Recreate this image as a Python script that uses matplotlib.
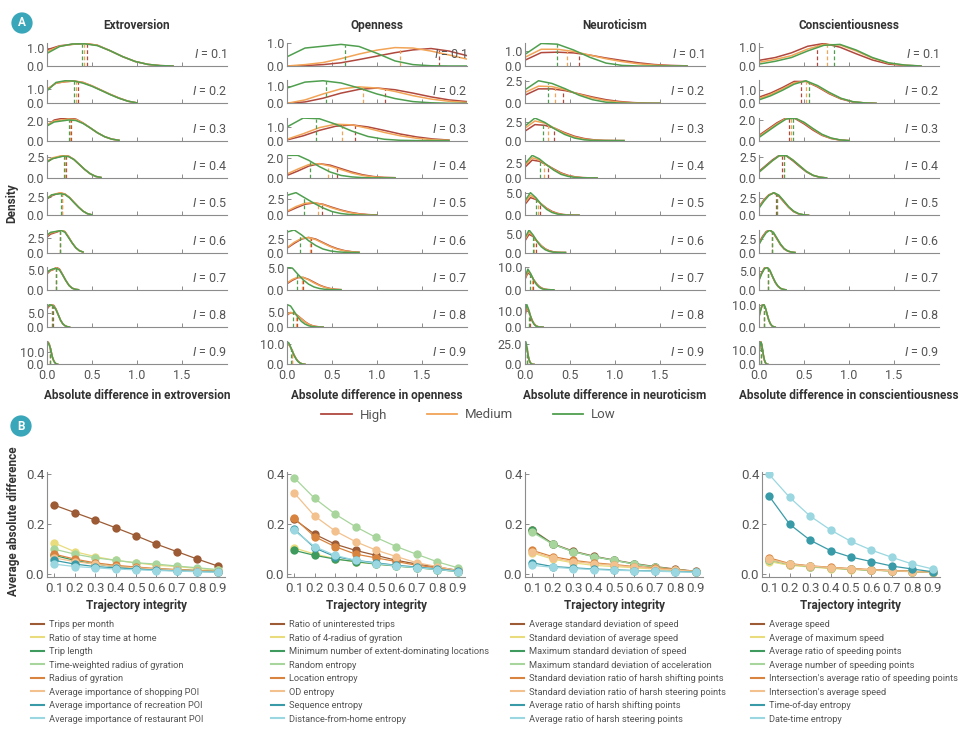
import numpy as np
import matplotlib.pyplot as plt
from matplotlib.lines import Line2D

W, H = 960, 738

plt.rcParams["font.family"] = ["Roboto", "DejaVu Sans"]
plt.rcParams["mathtext.fontset"] = "custom"
plt.rcParams["mathtext.it"] = "Roboto:italic"
plt.rcParams["mathtext.rm"] = "Roboto"

INTEGRITY = [0.1, 0.2, 0.3, 0.4, 0.5, 0.6, 0.7, 0.8, 0.9]
TRAITS = ["Extroversion", "Openness", "Neuroticism", "Conscientiousness"]
GROUPS = ["High", "Medium", "Low"]
GROUP_COLORS = ["#b0483e", "#f2a457", "#4f9f4f"]
SERIES_COLORS = ["#9c5b34", "#e9dc7c", "#3f9a5e", "#a7d59b",
                 "#d9843e", "#f2c18d", "#3a9ba8", "#9ad7e0"]

# ---- panel A: density samples (11 evenly spaced points from 0 to span) ----
ext_span = [1.4, 1.0, 0.8, 0.6, 0.5, 0.4, 0.35, 0.25, 0.12]
ext_tick = [1.0, 1.0, 2.0, 2.5, 2.5, 2.5, 5.0, 5.0, 10.0]
ext_high = [
    [0.90, 1.12, 1.20, 1.25, 1.15, 0.85, 0.52, 0.25, 0.09, 0.02, 0.0],
    [1.0, 1.45, 1.55, 1.6, 1.5, 1.25, 0.95, 0.65, 0.38, 0.15, 0.03],
    [1.5, 2.1, 2.25, 2.3, 2.2, 1.8, 1.3, 0.8, 0.4, 0.15, 0.03],
    [1.9, 2.3, 2.5, 2.65, 2.6, 2.2, 1.6, 1.0, 0.5, 0.18, 0.05],
    [2.2, 2.6, 2.85, 3.0, 2.85, 2.4, 1.75, 1.1, 0.55, 0.2, 0.05],
    [2.6, 3.1, 3.3, 3.5, 3.8, 3.5, 2.6, 1.6, 0.8, 0.3, 0.08],
    [4.0, 4.8, 5.1, 5.7, 5.2, 3.8, 2.3, 1.1, 0.4, 0.12, 0.02],
    [6.5, 7.5, 8.0, 7.8, 6.5, 4.5, 2.5, 1.2, 0.5, 0.15, 0.03],
    [15, 18, 17, 14, 10, 6, 3.5, 1.8, 0.8, 0.3, 0.05],
]
ext_med = [
    [0.80, 1.10, 1.20, 1.25, 1.15, 0.85, 0.52, 0.25, 0.09, 0.02, 0.0],
    [1.0, 1.45, 1.55, 1.6, 1.5, 1.25, 0.95, 0.65, 0.38, 0.15, 0.03],
    [1.6, 2.0, 2.1, 2.2, 2.15, 1.8, 1.3, 0.8, 0.4, 0.15, 0.03],
    [2.0, 2.4, 2.55, 2.7, 2.6, 2.2, 1.6, 1.0, 0.5, 0.18, 0.05],
    [2.3, 2.7, 2.9, 3.05, 2.85, 2.4, 1.75, 1.1, 0.55, 0.2, 0.05],
    [2.8, 3.3, 3.4, 3.6, 3.8, 3.5, 2.6, 1.6, 0.8, 0.3, 0.08],
    [4.2, 4.9, 5.2, 5.6, 5.1, 3.7, 2.3, 1.1, 0.4, 0.12, 0.02],
    [6.8, 7.8, 8.1, 7.6, 6.3, 4.4, 2.5, 1.2, 0.5, 0.15, 0.03],
    [16, 18.5, 16.5, 13.5, 9.8, 6, 3.5, 1.8, 0.8, 0.3, 0.05],
]
ext_low = [
    [0.70, 1.08, 1.22, 1.23, 1.13, 0.85, 0.52, 0.25, 0.09, 0.02, 0.0],
    [0.9, 1.5, 1.62, 1.6, 1.45, 1.22, 0.93, 0.63, 0.36, 0.15, 0.03],
    [1.5, 1.9, 2.0, 2.1, 2.05, 1.75, 1.3, 0.8, 0.4, 0.15, 0.03],
    [1.9, 2.3, 2.45, 2.6, 2.55, 2.2, 1.6, 1.0, 0.5, 0.18, 0.05],
    [2.2, 2.75, 2.85, 2.9, 2.8, 2.35, 1.7, 1.1, 0.55, 0.2, 0.05],
    [2.9, 3.4, 3.5, 3.6, 3.7, 3.4, 2.5, 1.6, 0.8, 0.3, 0.08],
    [4.3, 5.0, 5.3, 5.4, 5.0, 3.7, 2.3, 1.1, 0.4, 0.12, 0.02],
    [7.0, 8.0, 7.9, 7.4, 6.2, 4.4, 2.5, 1.2, 0.5, 0.15, 0.03],
    [16.5, 18, 16, 13.5, 9.8, 6, 3.5, 1.8, 0.8, 0.3, 0.05],
]
ext_medians = [[0.44, 0.41, 0.39], [0.34, 0.32, 0.30], [0.27, 0.25, 0.24],
               [0.21, 0.20, 0.19], [0.17, 0.165, 0.16], [0.145, 0.14, 0.14],
               [0.105, 0.10, 0.10], [0.065, 0.06, 0.06], [0.03, 0.03, 0.028]]

opn_span = [2.0, 2.0, 1.8, 1.2, 1.0, 0.8, 0.6, 0.4, 0.2]
opn_tick = [1.0, 1.0, 1.0, 2.0, 2.5, 2.5, 5.0, 5.0, 10.0]
opn_high = [
    [0.0, 0.02, 0.06, 0.14, 0.28, 0.43, 0.58, 0.70, 0.76, 0.65, 0.45],
    [0.0, 0.08, 0.3, 0.6, 0.82, 0.9, 0.8, 0.6, 0.38, 0.2, 0.1],
    [0.05, 0.35, 0.75, 1.05, 1.15, 1.0, 0.75, 0.48, 0.27, 0.12, 0.04],
    [0.25, 0.7, 1.2, 1.45, 1.3, 0.95, 0.6, 0.32, 0.14, 0.05, 0.02],
    [0.5, 1.1, 1.65, 1.85, 1.65, 1.2, 0.78, 0.45, 0.22, 0.09, 0.03],
    [0.8, 1.7, 2.5, 2.8, 2.5, 1.85, 1.2, 0.7, 0.35, 0.15, 0.05],
    [1.4, 2.2, 2.8, 2.85, 2.4, 1.75, 1.1, 0.62, 0.3, 0.12, 0.04],
    [4.0, 4.8, 4.6, 3.8, 2.8, 1.8, 1.0, 0.5, 0.22, 0.08, 0.02],
    [9.5, 9.8, 8.3, 6.4, 4.5, 2.9, 1.7, 0.9, 0.42, 0.16, 0.05],
]
opn_med = [
    [0.0, 0.06, 0.15, 0.32, 0.52, 0.69, 0.80, 0.78, 0.65, 0.48, 0.30],
    [0.0, 0.2, 0.55, 0.85, 0.97, 0.9, 0.7, 0.45, 0.25, 0.12, 0.05],
    [0.1, 0.5, 0.95, 1.2, 1.15, 0.9, 0.6, 0.35, 0.17, 0.07, 0.02],
    [0.4, 0.9, 1.35, 1.45, 1.2, 0.85, 0.5, 0.25, 0.1, 0.04, 0.01],
    [0.6, 1.3, 1.8, 1.9, 1.6, 1.1, 0.7, 0.38, 0.18, 0.07, 0.02],
    [0.9, 1.9, 2.6, 2.8, 2.4, 1.75, 1.1, 0.6, 0.3, 0.12, 0.04],
    [1.6, 2.4, 2.9, 2.85, 2.3, 1.6, 1.0, 0.55, 0.25, 0.1, 0.03],
    [4.2, 4.9, 4.6, 3.7, 2.7, 1.7, 0.95, 0.45, 0.2, 0.07, 0.02],
    [10, 10, 8.3, 6.3, 4.4, 2.8, 1.6, 0.85, 0.4, 0.15, 0.04],
]
opn_low = [
    [0.4, 0.78, 0.86, 0.94, 0.85, 0.55, 0.22, 0.06, 0.01, 0.0, 0.0],
    [0.9, 1.25, 1.33, 1.2, 0.9, 0.55, 0.28, 0.1, 0.03, 0.0, 0.0],
    [1.0, 1.65, 1.6, 1.2, 0.7, 0.3, 0.1, 0.02, 0.0, 0.0, 0.0],
    [2.3, 2.3, 1.8, 1.15, 0.6, 0.25, 0.1, 0.03, 0.0, 0.0, 0.0],
    [3.0, 3.4, 2.6, 1.8, 1.1, 0.55, 0.25, 0.1, 0.03, 0.0, 0.0],
    [3.8, 4.2, 3.3, 2.2, 1.3, 0.65, 0.3, 0.12, 0.04, 0.01, 0.0],
    [5.2, 5.0, 3.6, 2.3, 1.3, 0.65, 0.3, 0.12, 0.04, 0.01, 0.0],
    [7.5, 7.0, 5.2, 3.3, 1.9, 1.0, 0.45, 0.18, 0.06, 0.02, 0.0],
    [11, 10.5, 8.5, 6.3, 4.3, 2.7, 1.5, 0.8, 0.35, 0.12, 0.03],
]
opn_medians = [[1.69, 1.25, 0.64], [1.09, 0.84, 0.43], [0.76, 0.61, 0.32],
               [0.55, 0.45, 0.25], [0.39, 0.34, 0.19], [0.27, 0.25, 0.14],
               [0.18, 0.17, 0.115], [0.115, 0.10, 0.07], [0.055, 0.05, 0.04]]

neu_span = [1.8, 1.5, 1.1, 0.8, 0.6, 0.45, 0.32, 0.2, 0.1]
neu_tick = [1.0, 2.5, 2.5, 2.5, 5.0, 5.0, 10.0, 10.0, 25.0]
neu_high = [
    [0.4, 0.92, 0.95, 0.9, 0.75, 0.55, 0.38, 0.22, 0.1, 0.04, 0.01],
    [0.9, 1.6, 1.6, 1.4, 1.05, 0.7, 0.4, 0.2, 0.08, 0.02, 0.0],
    [1.3, 2.2, 2.1, 1.7, 1.1, 0.6, 0.28, 0.1, 0.03, 0.01, 0.0],
    [1.8, 3.0, 2.8, 2.2, 1.5, 0.85, 0.42, 0.17, 0.05, 0.01, 0.0],
    [2.4, 3.9, 3.5, 2.5, 1.55, 0.85, 0.42, 0.17, 0.05, 0.01, 0.0],
    [3.2, 5.0, 4.4, 3.1, 1.9, 1.0, 0.5, 0.2, 0.06, 0.01, 0.0],
    [4.5, 7.4, 6.4, 4.4, 2.7, 1.4, 0.65, 0.25, 0.08, 0.02, 0.0],
    [7, 12, 10, 7, 4.2, 2.2, 1.0, 0.38, 0.12, 0.03, 0.0],
    [16, 24, 20, 14, 8.6, 4.6, 2.2, 0.9, 0.3, 0.07, 0.0],
]
neu_med = [
    [0.6, 1.15, 1.15, 1.0, 0.75, 0.5, 0.3, 0.15, 0.06, 0.02, 0.0],
    [1.2, 1.9, 1.85, 1.5, 1.0, 0.6, 0.3, 0.13, 0.05, 0.01, 0.0],
    [1.7, 2.7, 2.4, 1.7, 1.0, 0.5, 0.2, 0.07, 0.02, 0.0, 0.0],
    [2.1, 3.4, 3.0, 2.2, 1.4, 0.75, 0.35, 0.13, 0.04, 0.01, 0.0],
    [2.8, 4.4, 3.7, 2.5, 1.45, 0.75, 0.35, 0.13, 0.04, 0.01, 0.0],
    [3.6, 5.6, 4.6, 3.1, 1.8, 0.9, 0.4, 0.15, 0.05, 0.01, 0.0],
    [5.0, 8.2, 6.7, 4.4, 2.5, 1.2, 0.5, 0.2, 0.06, 0.01, 0.0],
    [8, 13, 10.5, 7, 4, 2, 0.85, 0.3, 0.1, 0.02, 0.0],
    [18, 26, 21, 14, 8.3, 4.3, 2, 0.8, 0.25, 0.06, 0.0],
]
neu_low = [
    [0.8, 1.55, 1.5, 1.1, 0.6, 0.2, 0.04, 0.0, 0.0, 0.0, 0.0],
    [1.5, 2.5, 2.2, 1.6, 0.9, 0.4, 0.12, 0.03, 0.0, 0.0, 0.0],
    [2.0, 3.1, 2.5, 1.6, 0.85, 0.35, 0.1, 0.02, 0.0, 0.0, 0.0],
    [2.4, 3.8, 3.2, 2.2, 1.3, 0.6, 0.25, 0.08, 0.02, 0.0, 0.0],
    [3.2, 5.0, 3.9, 2.4, 1.3, 0.6, 0.25, 0.08, 0.02, 0.0, 0.0],
    [4.0, 6.2, 4.8, 3.0, 1.6, 0.75, 0.3, 0.1, 0.03, 0.0, 0.0],
    [5.5, 9.0, 7.0, 4.3, 2.3, 1.0, 0.4, 0.14, 0.04, 0.01, 0.0],
    [9, 14, 11, 7, 3.8, 1.8, 0.7, 0.25, 0.07, 0.02, 0.0],
    [20, 28, 22, 14, 8, 4, 1.8, 0.7, 0.2, 0.05, 0.0],
]
neu_medians = [[0.60, 0.47, 0.35], [0.42, 0.33, 0.25], [0.32, 0.26, 0.20],
               [0.26, 0.21, 0.17], [0.17, 0.14, 0.12], [0.12, 0.105, 0.09],
               [0.09, 0.075, 0.06], [0.055, 0.045, 0.04], [0.027, 0.023, 0.02]]

con_span = [1.8, 1.3, 1.0, 0.75, 0.55, 0.4, 0.3, 0.18, 0.1]
con_tick = [1.0, 1.0, 2.0, 2.5, 2.5, 2.5, 5.0, 10.0, 10.0]
con_high = [
    [0.3, 0.45, 0.7, 1.05, 1.2, 1.0, 0.65, 0.32, 0.1, 0.03, 0.0],
    [0.45, 0.75, 1.15, 1.6, 1.6, 1.2, 0.7, 0.32, 0.1, 0.03, 0.0],
    [0.5, 1.1, 1.7, 2.15, 2.1, 1.6, 1.0, 0.5, 0.2, 0.05, 0.0],
    [0.8, 1.5, 2.2, 2.75, 2.7, 2.1, 1.4, 0.75, 0.3, 0.08, 0.0],
    [1.2, 2.2, 2.9, 3.15, 2.7, 1.9, 1.1, 0.5, 0.18, 0.05, 0.0],
    [1.8, 3.0, 3.9, 4.2, 3.6, 2.5, 1.4, 0.65, 0.25, 0.07, 0.0],
    [2.8, 4.5, 5.7, 5.9, 5.0, 3.4, 1.9, 0.9, 0.35, 0.1, 0.0],
    [5, 8, 10.2, 10.3, 8.5, 5.8, 3.2, 1.5, 0.55, 0.15, 0.0],
    [9, 14, 16, 14, 10, 6, 3, 1.3, 0.5, 0.12, 0.0],
]
con_med = [
    [0.2, 0.35, 0.55, 0.9, 1.15, 1.12, 0.8, 0.42, 0.15, 0.04, 0.0],
    [0.35, 0.65, 1.05, 1.5, 1.62, 1.25, 0.75, 0.35, 0.12, 0.03, 0.0],
    [0.4, 1.0, 1.6, 2.1, 2.15, 1.7, 1.1, 0.55, 0.22, 0.06, 0.0],
    [0.7, 1.4, 2.1, 2.7, 2.75, 2.2, 1.5, 0.8, 0.32, 0.09, 0.0],
    [1.1, 2.1, 2.85, 3.2, 2.8, 2.0, 1.15, 0.55, 0.2, 0.06, 0.0],
    [1.6, 2.8, 3.8, 4.2, 3.7, 2.6, 1.5, 0.7, 0.27, 0.08, 0.0],
    [2.6, 4.3, 5.6, 5.9, 5.1, 3.5, 2.0, 0.95, 0.37, 0.1, 0.0],
    [4.8, 7.8, 10, 10.3, 8.6, 5.9, 3.3, 1.55, 0.58, 0.16, 0.0],
    [8.5, 13.5, 16, 14.2, 10.2, 6.1, 3.1, 1.35, 0.5, 0.12, 0.0],
]
con_low = [
    [0.1, 0.25, 0.45, 0.8, 1.1, 1.15, 0.85, 0.45, 0.17, 0.05, 0.0],
    [0.25, 0.55, 0.95, 1.4, 1.65, 1.3, 0.8, 0.37, 0.12, 0.03, 0.0],
    [0.3, 0.9, 1.5, 2.05, 2.15, 1.75, 1.15, 0.6, 0.25, 0.07, 0.0],
    [0.7, 1.4, 2.1, 2.7, 2.75, 2.2, 1.5, 0.8, 0.32, 0.09, 0.0],
    [1.0, 2.0, 2.8, 3.2, 2.85, 2.05, 1.2, 0.58, 0.22, 0.06, 0.0],
    [1.5, 2.7, 3.7, 4.15, 3.75, 2.65, 1.55, 0.72, 0.28, 0.08, 0.0],
    [2.5, 4.2, 5.5, 5.85, 5.15, 3.55, 2.05, 1.0, 0.38, 0.11, 0.0],
    [4.6, 7.6, 9.9, 10.3, 8.7, 6.0, 3.4, 1.6, 0.6, 0.17, 0.0],
    [8, 13, 15.8, 14.3, 10.4, 6.3, 3.2, 1.4, 0.52, 0.13, 0.0],
]
con_medians = [[0.64, 0.75, 0.83], [0.47, 0.52, 0.56], [0.33, 0.36, 0.38],
               [0.26, 0.28, 0.28], [0.19, 0.2, 0.2], [0.14, 0.14, 0.145],
               [0.10, 0.10, 0.10], [0.055, 0.055, 0.06], [0.025, 0.025, 0.027]]

# ---- panel B: average absolute difference vs trajectory integrity ----
mobility_labels = ["Trips per month", "Ratio of stay time at home", "Trip length",
                   "Time-weighted radius of gyration", "Radius of gyration",
                   "Average importance of shopping POI",
                   "Average importance of recreation POI",
                   "Average importance of restaurant POI"]
mobility_values = [
    [0.277, 0.247, 0.217, 0.186, 0.154, 0.120, 0.090, 0.060, 0.032],
    [0.125, 0.090, 0.070, 0.055, 0.045, 0.035, 0.030, 0.022, 0.015],
    [0.075, 0.055, 0.040, 0.030, 0.025, 0.020, 0.017, 0.014, 0.010],
    [0.100, 0.080, 0.065, 0.055, 0.045, 0.040, 0.032, 0.025, 0.018],
    [0.080, 0.060, 0.045, 0.035, 0.028, 0.022, 0.018, 0.014, 0.010],
    [0.065, 0.050, 0.040, 0.030, 0.025, 0.020, 0.016, 0.012, 0.009],
    [0.055, 0.040, 0.030, 0.025, 0.020, 0.016, 0.013, 0.010, 0.008],
    [0.040, 0.030, 0.025, 0.020, 0.017, 0.014, 0.012, 0.009, 0.007],
]
entropy_labels = ["Ratio of uninterested trips", "Ratio of 4-radius of gyration",
                  "Minimum number of extent-dominating locations", "Random entropy",
                  "Location entropy", "OD entropy", "Sequence entropy",
                  "Distance-from-home entropy"]
entropy_values = [
    [0.220, 0.160, 0.120, 0.095, 0.075, 0.055, 0.040, 0.028, 0.015],
    [0.105, 0.080, 0.062, 0.048, 0.040, 0.032, 0.025, 0.018, 0.010],
    [0.095, 0.075, 0.060, 0.050, 0.040, 0.032, 0.025, 0.018, 0.010],
    [0.387, 0.304, 0.241, 0.190, 0.147, 0.110, 0.079, 0.049, 0.025],
    [0.225, 0.150, 0.110, 0.080, 0.065, 0.050, 0.035, 0.025, 0.013],
    [0.326, 0.233, 0.173, 0.130, 0.096, 0.070, 0.045, 0.030, 0.013],
    [0.180, 0.105, 0.070, 0.055, 0.045, 0.035, 0.028, 0.020, 0.012],
    [0.175, 0.110, 0.075, 0.055, 0.042, 0.033, 0.025, 0.018, 0.010],
]
driving_labels = ["Average standard deviation of speed",
                  "Standard deviation of average speed",
                  "Maximum standard deviation of speed",
                  "Maximum standard deviation of acceleration",
                  "Standard deviation ratio of harsh shifting points",
                  "Standard deviation ratio of harsh steering points",
                  "Average ratio of harsh shifting points",
                  "Average ratio of harsh steering points"]
driving_values = [
    [0.178, 0.122, 0.092, 0.072, 0.056, 0.042, 0.030, 0.020, 0.011],
    [0.085, 0.060, 0.045, 0.035, 0.030, 0.025, 0.020, 0.014, 0.009],
    [0.175, 0.120, 0.090, 0.070, 0.055, 0.040, 0.028, 0.018, 0.010],
    [0.168, 0.120, 0.090, 0.070, 0.055, 0.040, 0.028, 0.018, 0.010],
    [0.095, 0.070, 0.055, 0.045, 0.038, 0.030, 0.025, 0.018, 0.010],
    [0.090, 0.065, 0.050, 0.042, 0.035, 0.028, 0.022, 0.016, 0.010],
    [0.045, 0.030, 0.025, 0.020, 0.017, 0.014, 0.012, 0.010, 0.008],
    [0.035, 0.027, 0.022, 0.018, 0.015, 0.013, 0.011, 0.009, 0.007],
]
speed_labels = ["Average speed", "Average of maximum speed",
                "Average ratio of speeding points", "Average number of speeding points",
                "Intersection's average ratio of speeding points",
                "Intersection's average speed", "Time-of-day entropy",
                "Date-time entropy"]
speed_values = [
    [0.055, 0.038, 0.030, 0.024, 0.020, 0.016, 0.013, 0.010, 0.007],
    [0.050, 0.035, 0.028, 0.022, 0.018, 0.015, 0.012, 0.009, 0.006],
    [0.058, 0.040, 0.031, 0.025, 0.020, 0.016, 0.013, 0.010, 0.007],
    [0.055, 0.039, 0.030, 0.025, 0.020, 0.016, 0.013, 0.010, 0.007],
    [0.065, 0.042, 0.033, 0.027, 0.022, 0.018, 0.014, 0.011, 0.008],
    [0.060, 0.040, 0.032, 0.026, 0.021, 0.017, 0.013, 0.010, 0.007],
    [0.313, 0.200, 0.136, 0.094, 0.068, 0.050, 0.032, 0.020, 0.009],
    [0.400, 0.308, 0.233, 0.177, 0.131, 0.096, 0.067, 0.040, 0.020],
]

TEXT = "#333333"
TICK = "#555555"
SPINE = "#8c8c8c"


def px_box(left, top, width, height):
    return [left / W, 1 - (top + height) / H, width / W, height / H]


def style_axis(ax, size):
    for side in ("top", "right"):
        ax.spines[side].set_visible(False)
    for side in ("left", "bottom"):
        ax.spines[side].set_color(SPINE)
        ax.spines[side].set_linewidth(0.8)
    ax.tick_params(direction="in", length=3, width=0.7, color=SPINE,
                   labelcolor=TICK, labelsize=size, pad=2)
    ax.tick_params(axis="x", pad=3.5)


def draw_density(ax, span, curves, medians, tick):
    x = np.linspace(0, span, 11)
    for values, med, color in zip(curves, medians, GROUP_COLORS):
        ax.plot(x, values, color=color, lw=1.1)
        ax.vlines(med, 0, np.interp(med, x, values), colors=color,
                  linestyles=(0, (3, 2)), lw=0.9)
    top = max(max(v) for v in curves)
    ax.set_ylim(0, top * 1.02)
    ax.set_xlim(0, 2.0)
    ax.set_yticks([0, tick])
    ax.set_yticklabels(["0.0", f"{tick:.1f}"])
    ax.set_xticks([0, 0.5, 1.0, 1.5])


fig = plt.figure(figsize=(W / 100, H / 100), dpi=100)

density_sets = [
    (ext_span, ext_tick, ext_high, ext_med, ext_low, ext_medians, "extroversion"),
    (opn_span, opn_tick, opn_high, opn_med, opn_low, opn_medians, "openness"),
    (neu_span, neu_tick, neu_high, neu_med, neu_low, neu_medians, "neuroticism"),
    (con_span, con_tick, con_high, con_med, con_low, con_medians, "conscientiousness"),
]
col_left = [47, 287, 525, 759]

for c, (span, tick, hi, me, lo, meds, word) in enumerate(density_sets):
    for r, integ in enumerate(INTEGRITY):
        ax = fig.add_axes(px_box(col_left[c], 43 + r * 37.3, 180, 23))
        style_axis(ax, 9)
        draw_density(ax, span[r], [hi[r], me[r], lo[r]], meds[r], tick[r])
        ax.text(1.0, 0.5, f"$I$ = {integ}", transform=ax.transAxes,
                ha="right", va="center", fontsize=9, color="#555555")
        if r == 0:
            ax.set_title(TRAITS[c], fontsize=8.5, fontweight="semibold",
                         color=TEXT, pad=10)
        if r < 8:
            ax.tick_params(labelbottom=False)
        else:
            ax.set_xticklabels(["0.0", "0.5", "1.0", "1.5"])
            ax.set_xlabel(f"Absolute difference in {word}", fontsize=8.5,
                          fontweight="bold", color=TEXT, labelpad=5)

fig.text(12 / W, 1 - 203 / H, "Density", rotation=90, ha="center",
         va="center", fontsize=8.5, fontweight="bold", color=TEXT)

group_handles = [Line2D([], [], color=c, lw=1.3) for c in GROUP_COLORS]
fig.legend(group_handles, GROUPS, loc="center", ncol=3,
           bbox_to_anchor=(0.488, 1 - 415 / H), frameon=False, fontsize=9.5,
           handlelength=2.3, columnspacing=3.0, handletextpad=0.6,
           labelcolor=TICK)

trend_sets = [
    (mobility_values, mobility_labels),
    (entropy_values, entropy_labels),
    (driving_values, driving_labels),
    (speed_values, speed_labels),
]
trend_left = [47, 287, 525, 762]
legend_left = [31, 271, 511, 751]

for c, (series, labels) in enumerate(trend_sets):
    ax = fig.add_axes(px_box(trend_left[c], 472, 178, 105))
    style_axis(ax, 9.5)
    for values, color in zip(series, SERIES_COLORS):
        ax.plot(INTEGRITY, values, color=color, lw=0.9, marker="o", ms=6,
                mec="none")
    ax.set_xlim(0.065, 0.935)
    ax.set_ylim(-0.012, 0.41)
    ax.set_xticks(INTEGRITY)
    ax.set_xticklabels([f"{v:.1f}" for v in INTEGRITY])
    ax.set_yticks([0, 0.2, 0.4])
    ax.set_yticklabels(["0.0", "0.2", "0.4"])
    ax.set_xlabel("Trajectory integrity", fontsize=8.5, fontweight="bold",
                  color=TEXT, labelpad=3)
    handles = [Line2D([], [], color=col, lw=1.5) for col in SERIES_COLORS]
    fig.legend(handles, labels, loc="upper left",
               bbox_to_anchor=(legend_left[c] / W, 1 - 620 / H),
               frameon=False, fontsize=6.65, handlelength=1.45,
               handletextpad=0.5, labelspacing=0.49, borderpad=0,
               borderaxespad=0, labelcolor=TICK)

fig.text(14 / W, 1 - 521 / H, "Average absolute difference", rotation=90,
         ha="center", va="center", fontsize=8.5, fontweight="bold", color=TEXT)

for letter, (px, py) in zip("AB", [(22, 23), (21, 426)]):
    fig.text(px / W, 1 - py / H, letter, ha="center", va="center",
             color="white", fontsize=8.5, fontweight="bold",
             bbox=dict(boxstyle="circle,pad=0.35", fc="#3aa6b9", ec="none"))

fig.savefig("out.png", dpi=100, facecolor="white")
